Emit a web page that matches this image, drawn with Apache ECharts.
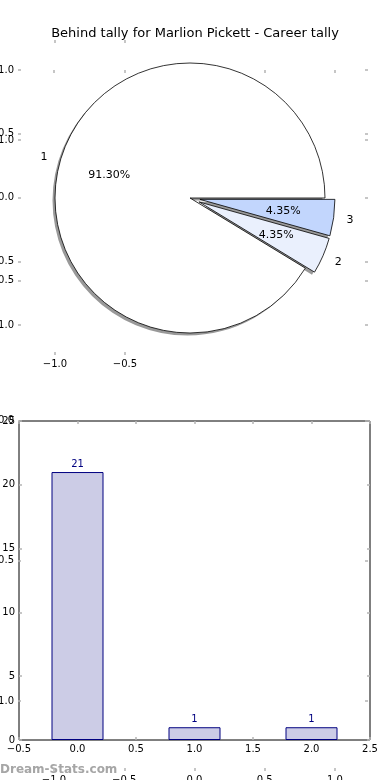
<!DOCTYPE html>
<html><head><meta charset="utf-8">
<script src="https://cdn.jsdelivr.net/npm/echarts@6/dist/echarts.min.js"></script>
<style>html,body{margin:0;padding:0;background:#fff}#c{width:390px;height:780px}</style>
</head><body><div id="c"></div>
<script>
// ---- data ----
var titleText = 'Behind tally for Marlion Pickett - Career tally';
var sliceNames = ['1', '2', '3'];
var sliceValues = [21, 1, 1];
var sliceColors = ['#ffffff', '#eaf0fd', '#c2d6fd'];
var explodedSlices = [false, true, true];
var barX = [0, 1, 2];
var barValues = [21, 1, 1];
var watermark = 'Dream-Stats.com';

var FONT = 'DejaVu Sans';
var TICK = '#b4b4b4';
function fmt1(v){ return v.toFixed(1).replace('-', '\u2212'); }
function fmt0(v){ return String(Math.round(v)); }

function baseAx(grid, pos, min, max, itv, offset, labels, fmt){
  return {type:'value', gridIndex:grid, position:pos, min:min, max:max, interval:itv, offset:offset,
    splitLine:{show:false}, axisLine:{show:false, onZero:false},
    axisTick:{show:true, inside:true, length:3, lineStyle:{color:TICK, width:1.5}},
    axisLabel:{show:labels, margin:4, color:'#000', fontSize:10, fontFamily:FONT, formatter:fmt,
      showMinLabel:true, showMaxLabel:true}};
}
function xAx(grid, pos, min, max, itv, offset, labels, fmt){
  var a = baseAx(grid, pos, min, max, itv, offset, labels, fmt);
  a.axisLabel.alignMinLabel = 'center'; a.axisLabel.alignMaxLabel = 'center';
  return a;
}
function yAx(grid, pos, min, max, itv, offset, labels, fmt){
  var a = baseAx(grid, pos, min, max, itv, offset, labels, fmt);
  a.axisLabel.verticalAlignMinLabel = 'middle'; a.axisLabel.verticalAlignMaxLabel = 'middle';
  return a;
}

var pieData = sliceNames.map(function(n,i){
  return {name:n, value:sliceValues[i], selected:explodedSlices[i], itemStyle:{color:sliceColors[i]}};
});
var pieDataT = sliceNames.map(function(n,i){
  return {name:n, value:sliceValues[i], selected:explodedSlices[i]};
});

var R = 135, CX = 190, CY = 198;
var common = {type:'pie', center:[CX, CY], startAngle:0, clockwise:false, selectedMode:'multiple',
  selectedOffset:10, animation:false, emphasis:{disabled:true}, avoidLabelOverlap:false, labelLine:{show:false}};

var option = {
  animation:false,
  title:{text:titleText, left:'center', top:22, textStyle:{fontSize:13, fontWeight:'normal', color:'#000', fontFamily:FONT}},
  grid:[
    {left:55, width:70, top:70, height:255, containLabel:false, outerBoundsMode:'none'},
    {left:54, width:281, top:140, height:561, containLabel:false, outerBoundsMode:'none'},
    {left:19, width:351, top:421, height:319, containLabel:false, outerBoundsMode:'none',
      show:true, borderColor:'#000', borderWidth:1, backgroundColor:'transparent'}
  ],
  xAxis:[
    xAx(0,'bottom',-1,-0.5,0.5,30,true,fmt1),
    xAx(0,'top',-1,-0.5,0.5,30,false,fmt1),
    xAx(1,'bottom',-1,1,0.5,70,true,fmt1),
    xAx(1,'top',-1,1,0.5,70,false,fmt1),
    xAx(2,'bottom',-0.5,2.5,0.5,0,true,fmt1),
    xAx(2,'top',-0.5,2.5,0.5,0,false,fmt1)
  ],
  yAxis:[
    yAx(0,'left',-1,1,0.5,37,true,fmt1),
    yAx(0,'right',-1,1,0.5,243,false,fmt1),
    yAx(1,'left',-1,1,0.5,36,true,fmt1),
    yAx(1,'right',-1,1,0.5,33,false,fmt1),
    yAx(2,'left',0,25,5,0,true,fmt0),
    yAx(2,'right',0,25,5,0,false,fmt0)
  ],
  graphic:[{type:'text', left:0, top:764, style:{text:watermark, fill:'#a6a6a6', font:'bold 12px "DejaVu Sans"'}}],
  series:[
    // shadow copy of the pie (offset down-left)
    Object.assign({}, common, {center:[CX-2.5, CY+2.5], radius:[0, R], z:2, data:pieDataT, label:{show:false},
      itemStyle:{color:'rgba(0,0,0,0.4)', borderWidth:0}}),
    Object.assign({}, common, {radius:[0, R], z:3, data:pieData, label:{show:false},
      itemStyle:{borderColor:'#000', borderWidth:0.8}}),
    Object.assign({}, common, {radius:[0, 1.2*R], z:4, data:pieDataT,
      itemStyle:{color:'rgba(0,0,0,0)', borderWidth:0},
      label:{show:true, position:'inside', rotate:0, color:'#000', fontSize:11, fontFamily:FONT,
        formatter:function(p){ return p.percent.toFixed(2) + '%'; }}}),
    Object.assign({}, common, {radius:[R, 1.2*R], z:4, data:pieDataT,
      itemStyle:{color:'rgba(0,0,0,0)', borderWidth:0},
      label:{show:true, position:'inside', rotate:0, color:'#000', fontSize:11, fontFamily:FONT, formatter:'{b}'}}),
    {type:'bar', xAxisIndex:4, yAxisIndex:4, barWidth:52, z:3,
      data:barX.map(function(x,i){ return [x, barValues[i]]; }),
      itemStyle:{color:'#cccce6', borderColor:'#000080', borderWidth:1},
      label:{show:true, position:'top', distance:3, color:'#000080', fontSize:10, fontFamily:FONT}}
  ]
};
var chart = echarts.init(document.getElementById('c'), null, {renderer:'canvas'});
chart.setOption(option);
</script></body></html>
